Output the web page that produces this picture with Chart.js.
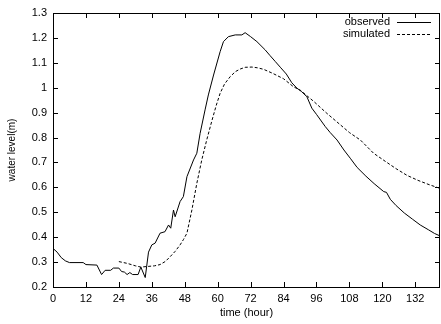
<!DOCTYPE html>
<html>
<head>
<meta charset="utf-8">
<script src="https://cdn.jsdelivr.net/npm/chart.js@4/dist/chart.umd.min.js"></script>
<style>
  html, body { margin: 0; padding: 0; background: #fff; }
  #wrap { width: 441px; height: 324px; }
</style>
</head>
<body>
<div id="wrap"><canvas id="c"></canvas></div>
<script>
// values
var xTicks = [0, 12, 24, 36, 48, 60, 72, 84, 96, 108, 120, 132];
var yTicks = [0.2, 0.3, 0.4, 0.5, 0.6, 0.7, 0.8, 0.9, 1.0, 1.1, 1.2, 1.3];

var obsTime = [0, 1.5, 3, 4.5, 6, 11, 12, 16, 17.7, 19, 21, 22, 24, 25, 26, 27, 28, 29, 31, 32, 33.6,
  34.8, 36, 37.2, 39, 40.8, 42.1, 42.9, 43.9, 44.5, 46.3, 47.5, 48.8, 51.2, 52.4, 53.6, 55.4, 56.6,
  58.5, 60.9, 62.1, 63.9, 66.4, 68.8, 70, 72, 74.3, 77.3, 79, 81, 83, 85, 87, 88.9, 90.5, 92.5, 94.3,
  96, 99.2, 101, 103.5, 106, 108.3, 110.8, 114, 117, 120.5, 121.5, 122.9, 125, 128, 131, 133.8,
  136.9, 139, 141];
var obsLevel = [0.355, 0.34, 0.318, 0.305, 0.298, 0.298, 0.29, 0.288, 0.25, 0.267, 0.267, 0.276, 0.276,
  0.262, 0.26, 0.25, 0.258, 0.25, 0.25, 0.28, 0.238, 0.34, 0.369, 0.376, 0.416, 0.422, 0.449, 0.436,
  0.509, 0.482, 0.543, 0.563, 0.643, 0.71, 0.737, 0.817, 0.911, 0.971, 1.051, 1.145, 1.185, 1.205,
  1.212, 1.212, 1.221, 1.205, 1.185, 1.152, 1.13, 1.105, 1.08, 1.055, 1.02, 0.998, 0.985, 0.964,
  0.918, 0.893, 0.844, 0.82, 0.79, 0.75, 0.717, 0.68, 0.645, 0.615, 0.583, 0.58, 0.552, 0.527, 0.497,
  0.472, 0.449, 0.429, 0.415, 0.405];

var simTime = [24, 27, 30, 32, 34, 37, 39, 41, 42.7, 44.5, 46.3, 47.5, 48.8, 50.6, 52.4, 54.2, 56,
  57.9, 59.5, 60.9, 62.5, 64.6, 66.5, 68.2, 70, 72.5, 74.5, 76.7, 80, 84, 87.6, 90.1, 95, 99.8,
  104.7, 108, 112, 116.8, 121, 125, 129, 133, 137, 141];
var simLevel = [0.302, 0.295, 0.285, 0.28, 0.282, 0.285, 0.29, 0.303, 0.322, 0.343, 0.369, 0.39,
  0.416, 0.509, 0.616, 0.71, 0.79, 0.868, 0.93, 0.978, 1.015, 1.045, 1.065, 1.075, 1.082, 1.083,
  1.08, 1.074, 1.058, 1.036, 1.004, 0.99, 0.945, 0.897, 0.851, 0.82, 0.79, 0.737, 0.705, 0.675,
  0.648, 0.628, 0.611, 0.596];

var seriesNames = ['observed', 'simulated'];
var FONT = 'Liberation Sans, Arial, Helvetica, sans-serif';

function toPoints(xs, ys) {
  return xs.map(function (x, i) { return { x: x, y: ys[i] }; });
}

// gnuplot style frame with inward ticks on all sides + key in the top right corner
var framePlugin = {
  id: 'frame',
  afterDraw: function (chart) {
    var ctx = chart.ctx, a = chart.chartArea;
    var xs = chart.scales.x, ys = chart.scales.y;
    var tl = 5;
    ctx.save();
    ctx.strokeStyle = '#000';
    ctx.lineWidth = 1;
    ctx.setLineDash([]);
    ctx.strokeRect(a.left + 0.5, a.top + 0.5, a.right - a.left - 1, a.bottom - a.top);
    ctx.beginPath();
    xTicks.forEach(function (v) {
      var px = Math.round(xs.getPixelForValue(v)) + 0.5;
      ctx.moveTo(px, a.bottom); ctx.lineTo(px, a.bottom - tl);
      ctx.moveTo(px, a.top); ctx.lineTo(px, a.top + tl);
    });
    yTicks.forEach(function (v) {
      var py = Math.round(ys.getPixelForValue(v)) + 0.5;
      ctx.moveTo(a.left, py); ctx.lineTo(a.left + tl, py);
      ctx.moveTo(a.right, py); ctx.lineTo(a.right - tl, py);
    });
    ctx.stroke();

    // key
    ctx.font = '11px ' + FONT;
    ctx.fillStyle = '#000';
    ctx.textAlign = 'right';
    ctx.textBaseline = 'middle';
    var kx = 390, ky = 22;
    chart.data.datasets.forEach(function (ds, i) {
      var y = ky + i * 12;
      ctx.fillText(ds.label, kx, y);
      ctx.beginPath();
      ctx.setLineDash(ds.borderDash || []);
      ctx.moveTo(397, y + 0.5);
      ctx.lineTo(431, y + 0.5);
      ctx.stroke();
    });
    ctx.restore();
  }
};

new Chart(document.getElementById('c'), {
  type: 'line',
  data: {
    datasets: [{
      label: seriesNames[0],
      data: toPoints(obsTime, obsLevel),
      borderColor: '#000',
      borderWidth: 1,
      pointRadius: 0,
      tension: 0,
      fill: false
    }, {
      label: seriesNames[1],
      data: toPoints(simTime, simLevel),
      borderColor: '#000',
      borderWidth: 1,
      borderDash: [3, 2],
      pointRadius: 0,
      tension: 0,
      fill: false
    }]
  },
  options: {
    responsive: true,
    maintainAspectRatio: false,
    animation: false,
    events: [],
    layout: { padding: { top: 13, right: 1, left: 0, bottom: 0 } },
    plugins: {
      legend: { display: false },
      tooltip: { enabled: false }
    },
    scales: {
      x: {
        type: 'linear',
        min: 0,
        max: 141,
        afterBuildTicks: function (s) { s.ticks = xTicks.map(function (v) { return { value: v }; }); },
        afterFit: function (s) { s.height = 37; },
        grid: { display: false, drawTicks: false },
        border: { display: false },
        ticks: {
          color: '#000',
          font: { family: FONT, size: 11 },
          padding: 5,
          maxRotation: 0,
          autoSkip: false
        },
        title: {
          display: true,
          text: 'time (hour)',
          color: '#000',
          font: { family: FONT, size: 11 },
          padding: { top: 0, bottom: 4 }
        }
      },
      y: {
        min: 0.2,
        max: 1.3,
        afterBuildTicks: function (s) { s.ticks = yTicks.map(function (v) { return { value: v }; }); },
        afterFit: function (s) { s.width = 53; },
        grid: { display: false, drawTicks: false },
        border: { display: false },
        ticks: {
          color: '#000',
          font: { family: FONT, size: 11 },
          padding: 6,
          autoSkip: false,
          callback: function (v) { return String(Math.round(v * 10) / 10); }
        },
        title: {
          display: true,
          text: 'water level(m)',
          color: '#000',
          font: { family: FONT, size: 10 },
          padding: { top: 6, bottom: 0 }
        }
      }
    }
  },
  plugins: [framePlugin]
});
</script>
</body>
</html>
